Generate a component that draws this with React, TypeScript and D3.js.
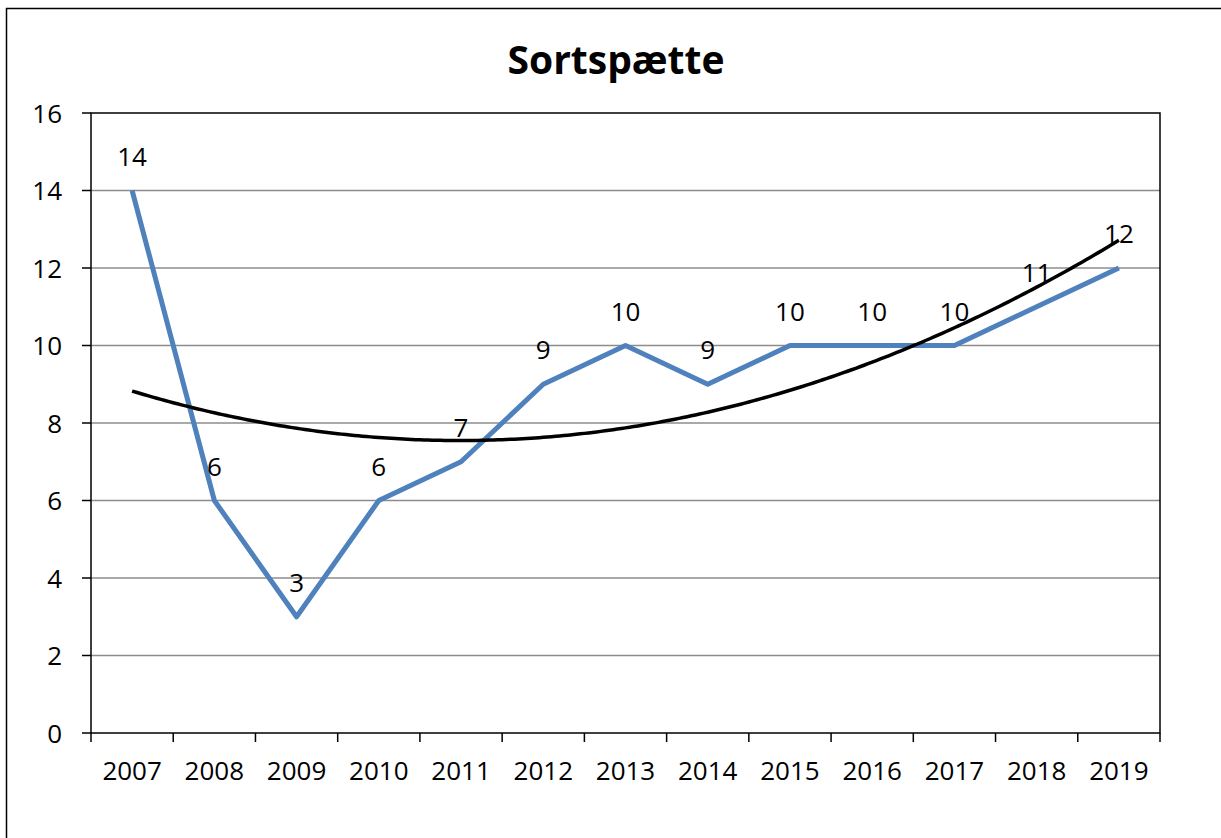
import React from 'react'
import { scaleBand, scaleLinear, line } from 'd3'

const years = ['2007', '2008', '2009', '2010', '2011', '2012', '2013', '2014', '2015', '2016', '2017', '2018', '2019']
const counts = [14, 6, 3, 6, 7, 9, 10, 9, 10, 10, 10, 11, 12]
const yTicks = [0, 2, 4, 6, 8, 10, 12, 14, 16]

// least squares fit of order 2, like the spreadsheet trendline
const fitQuadratic = (ys: number[]) => {
  const n = ys.length
  const mid = (n - 1) / 2
  let s2 = 0, s4 = 0, sy = 0, sty = 0, st2y = 0
  ys.forEach((y, i) => {
    const t = i - mid
    s2 += t * t
    s4 += t * t * t * t
    sy += y
    sty += t * y
    st2y += t * t * y
  })
  const b = sty / s2
  const c = (st2y - (s2 * sy) / n) / (s4 - (s2 * s2) / n)
  const a = (sy - c * s2) / n
  return (i: number) => a + b * (i - mid) + c * (i - mid) * (i - mid)
}

const App = () => {
  const width = 1221
  const height = 838
  const left = 91
  const right = 1160
  const top = 113
  const bottom = 733
  const font = '"Open Sans", "Noto Sans", sans-serif'

  const x = scaleBand<string>().domain(years).range([left, right]).padding(0)
  const y = scaleLinear().domain([0, 16]).range([bottom, top])
  const cx = (yr: string) => (x(yr) as number) + x.bandwidth() / 2
  const xi = scaleLinear().domain([0, years.length - 1]).range([cx(years[0]), cx(years[years.length - 1])])

  const trend = fitQuadratic(counts)
  const trendIdx: number[] = []
  for (let k = 0; k <= 240; k++) trendIdx.push((k / 240) * (years.length - 1))

  const dataLine = line<number>().x((_, i) => cx(years[i])).y((d) => y(d))
  const trendLine = line<number>().x((t) => xi(t)).y((t) => y(trend(t)))

  return (
    <svg width={width} height={height} style={{ position: 'absolute', left: 0, top: 0, background: '#fff' }}>
      <rect x={6.5} y={8.5} width={1400} height={1000} fill="#fff" stroke="#000" strokeWidth={1.5} />
      <text x={616} y={74} textAnchor="middle" fontFamily={font} fontWeight="bold" fontSize={39}>
        Sortspætte
      </text>

      {yTicks.slice(1, -1).map((t) => (
        <line key={t} x1={left} x2={right} y1={y(t)} y2={y(t)} stroke="#8c8c8c" strokeWidth={1.5} />
      ))}
      <rect x={left} y={top} width={right - left} height={bottom - top} fill="none" stroke="#000" strokeWidth={1.5} />

      {yTicks.map((t) => (
        <g key={t}>
          <line x1={left - 9} x2={left} y1={y(t)} y2={y(t)} stroke="#000" strokeWidth={1.5} />
          <text x={62} y={y(t) + 9.5} textAnchor="end" fontFamily={font} fontSize={26}>
            {t}
          </text>
        </g>
      ))}

      {years.map((yr) => (
        <g key={yr}>
          <line x1={x(yr)} x2={x(yr)} y1={bottom} y2={bottom + 9} stroke="#000" strokeWidth={1.5} />
          <text x={cx(yr)} y={780} textAnchor="middle" fontFamily={font} fontSize={26}>
            {yr}
          </text>
        </g>
      ))}
      <line x1={right} x2={right} y1={bottom} y2={bottom + 9} stroke="#000" strokeWidth={1.5} />

      <path d={dataLine(counts) || ''} fill="none" stroke="#4f81bd" strokeWidth={5} strokeLinejoin="round" />
      <path d={trendLine(trendIdx) || ''} fill="none" stroke="#000" strokeWidth={3.5} />

      {counts.map((v, i) => (
        <text key={i} x={cx(years[i])} y={y(v) - 25} textAnchor="middle" fontFamily={font} fontSize={26}>
          {v}
        </text>
      ))}
    </svg>
  )
}

export default App
